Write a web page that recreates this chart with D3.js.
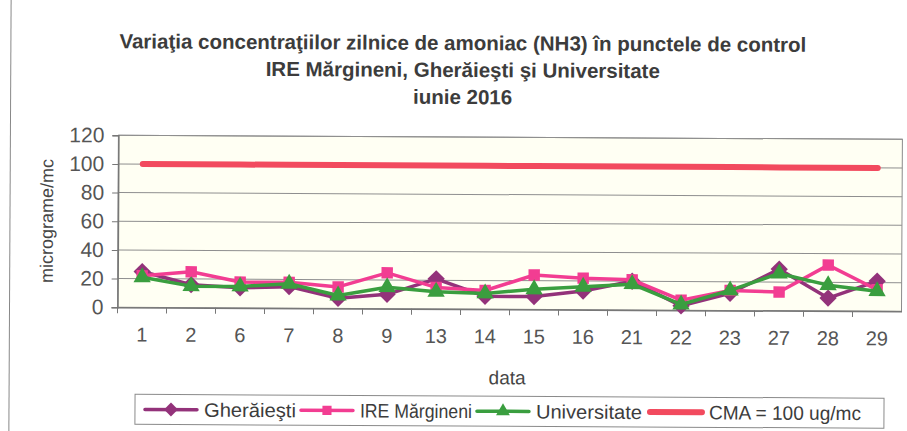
<!DOCTYPE html>
<html>
<head>
<meta charset="utf-8">
<script src="https://cdn.jsdelivr.net/npm/d3@7"></script>
<style>
  body { margin: 0; background: #fff; }
  text { font-family: "Liberation Sans", Arial, sans-serif; }
</style>
</head>
<body>
<div id="chart"></div>
<script>
// data
const days = ["1", "2", "6", "7", "8", "9", "13", "14", "15", "16", "21", "22", "23", "27", "28", "29"];
const gheraiesti = [25, 16, 14, 15, 7, 10, 21, 9, 9, 13, 20, 3, 12, 29, 9, 21];
const margineni = [22, 25, 18, 18, 15, 25, 15, 13, 24, 22, 21, 7, 14, 13, 32, 15];
const universitate = [21, 15, 15, 17, 9, 15, 12, 11, 14, 16, 18, 4, 14, 26, 18, 14];
const cma = [100, 100, 100, 100, 100, 100, 100, 100, 100, 100, 100, 100, 100, 100, 100, 100];
const yTicks = [0, 20, 40, 60, 80, 100, 120];
const titleLines = [
  "Variaţia concentraţiilor zilnice de amoniac (NH3) în punctele de control",
  "IRE Mărgineni, Gherăieşti şi Universitate",
  "iunie 2016"
];

const W = 907, H = 431;
const plot = { left: 118, right: 902, top: 137, bottom: 309 };

const svg = d3.select("#chart")
  .append("svg")
  .attr("width", W)
  .attr("height", H);

// the scan is slightly tilted
const g = svg.append("g")
  .attr("transform", "rotate(0.3, 453, 215)");

// outer frame (left edge visible only)
g.append("line")
  .attr("x1", 10).attr("x2", 10).attr("y1", -10).attr("y2", 440)
  .attr("stroke", "#888").attr("stroke-width", 1);

const x = d3.scaleBand()
  .domain(days)
  .range([plot.left, plot.right])
  .padding(0);

const y = d3.scaleLinear()
  .domain([0, 120])
  .range([plot.bottom, plot.top]);

const cx = d => x(d) + x.bandwidth() / 2;

// plot background
g.append("rect")
  .attr("x", plot.left).attr("y", plot.top)
  .attr("width", plot.right - plot.left).attr("height", plot.bottom - plot.top)
  .attr("fill", "#fffff3")
  .attr("stroke", "#8a8a8a").attr("stroke-width", 1);

// gridlines
g.append("g")
  .selectAll("line")
  .data(yTicks.filter(t => t > 0))
  .join("line")
  .attr("x1", plot.left).attr("x2", plot.right)
  .attr("y1", d => y(d)).attr("y2", d => y(d))
  .attr("stroke", "#8f8f8f").attr("stroke-width", 1);

// y axis
const yAxis = g.append("g")
  .attr("transform", `translate(${plot.left},0)`)
  .call(d3.axisLeft(y).tickValues(yTicks).tickSize(6).tickPadding(8));
yAxis.select(".domain").attr("stroke", "#777").attr("stroke-width", 1.5);
yAxis.selectAll(".tick line").attr("stroke", "#777");
yAxis.selectAll(".tick text")
  .attr("fill", "#555")
  .style("font-size", "21px")
  .style("font-family", "'Liberation Sans', Arial, sans-serif");

// x axis with ticks between categories
const xAxis = g.append("g")
  .attr("transform", `translate(0,${plot.bottom})`)
  .call(d3.axisBottom(x).tickSize(0).tickPadding(20));
xAxis.select(".domain").attr("stroke", "#777").attr("stroke-width", 1.5);
xAxis.selectAll(".tick text")
  .attr("fill", "#555")
  .style("font-size", "20px")
  .style("font-family", "'Liberation Sans', Arial, sans-serif");
g.append("g")
  .selectAll("line")
  .data(days)
  .join("line")
  .attr("x1", d => x(d)).attr("x2", d => x(d))
  .attr("y1", plot.bottom).attr("y2", plot.bottom + 6)
  .attr("stroke", "#777");

// axis titles
g.append("text")
  .attr("x", (plot.left + plot.right) / 2 - 2)
  .attr("y", 384)
  .attr("text-anchor", "middle")
  .attr("fill", "#454545")
  .style("font-size", "19px")
  .text("data");

g.append("text")
  .attr("transform", `translate(53,${(plot.top + plot.bottom) / 2}) rotate(-90)`)
  .attr("text-anchor", "middle")
  .attr("fill", "#454545")
  .style("font-size", "18px")
  .text("micrograme/mc");

// title
g.append("g")
  .selectAll("text")
  .data(titleLines)
  .join("text")
  .attr("x", 462)
  .attr("y", (d, i) => 50 + i * 27)
  .attr("text-anchor", "middle")
  .attr("fill", "#3c3c3c")
  .style("font-size", "20.5px")
  .style("font-weight", "bold")
  .text(d => d);

// series
const series = [
  { name: "Gherăieşti", values: gheraiesti, color: "#93327a", marker: "diamond", width: 3.5 },
  { name: "IRE Mărgineni", values: margineni, color: "#f23d92", marker: "square", width: 3.5 },
  { name: "Universitate", values: universitate, color: "#3a9e3f", marker: "triangle", width: 3.5 },
  { name: "CMA = 100 ug/mc", values: cma, color: "#f24a5e", marker: null, width: 6 }
];

const markerPath = {
  diamond: d3.symbol().type(d3.symbolSquare).size(150)(),
  square: d3.symbol().type(d3.symbolSquare).size(130)(),
  triangle: d3.symbol().type(d3.symbolTriangle).size(130)()
};
const markerRot = { diamond: 45, square: 0, triangle: 0 };

const line = d3.line()
  .x((d, i) => cx(days[i]))
  .y(d => y(d));

series.forEach(s => {
  g.append("path")
    .datum(s.values)
    .attr("d", line)
    .attr("fill", "none")
    .attr("stroke", s.color)
    .attr("stroke-width", s.width)
    .attr("stroke-linecap", "round")
    .attr("stroke-linejoin", "round");
  if (s.marker) {
    g.append("g")
      .selectAll("path")
      .data(s.values)
      .join("path")
      .attr("d", markerPath[s.marker])
      .attr("transform", (d, i) => `translate(${cx(days[i])},${y(d)}) rotate(${markerRot[s.marker]})`)
      .attr("fill", s.color);
  }
});

// legend
const legend = g.append("g");
legend.append("rect")
  .attr("x", 136).attr("y", 396)
  .attr("width", 749).attr("height", 30)
  .attr("fill", "#fff")
  .attr("stroke", "#8a8a8a");

const legendX = [146, 302, 478, 651];
const legendTextW = [92, 112, 106, 152];
series.forEach((s, i) => {
  const lx = legendX[i];
  const item = legend.append("g").attr("transform", `translate(${lx},411)`);
  item.append("line")
    .attr("x1", 0).attr("x2", 52)
    .attr("stroke", s.color)
    .attr("stroke-width", s.width)
    .attr("stroke-linecap", "round");
  if (s.marker) {
    item.append("path")
      .attr("d", markerPath[s.marker])
      .attr("transform", `translate(26,0) rotate(${markerRot[s.marker]}) scale(0.8)`)
      .attr("fill", s.color);
  }
  item.append("text")
    .attr("x", 59)
    .attr("y", 7)
    .attr("fill", "#3c3c3c")
    .attr("textLength", legendTextW[i])
    .attr("lengthAdjust", "spacingAndGlyphs")
    .style("font-size", "19.5px")
    .text(s.name);
});
</script>
</body>
</html>
